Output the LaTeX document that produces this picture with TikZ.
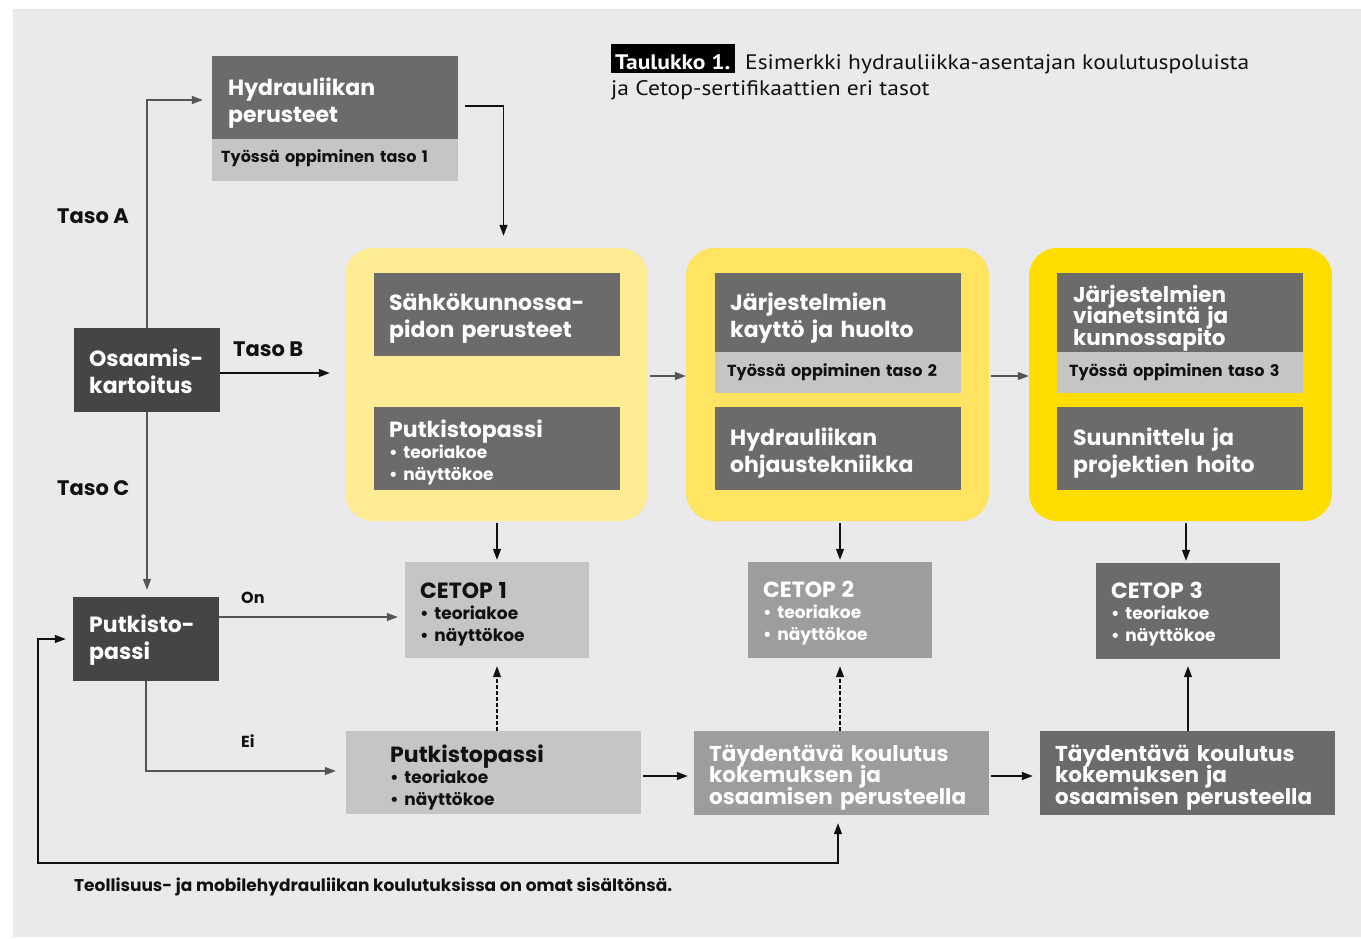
\documentclass[tikz,border=0pt]{standalone}
\usepackage{fontspec}
\setmainfont{Poppins}
\newfontfamily\ptsans{PT Sans}[FakeStretch=1.12]
\usetikzlibrary{arrows.meta,calc}
\definecolor{bg}{HTML}{EAEAEC}
\definecolor{dk}{HTML}{6B6B6A}
\definecolor{dkr}{HTML}{454545}
\definecolor{lt}{HTML}{C4C5C4}
\definecolor{md}{HTML}{9D9D9D}
\definecolor{yA}{HTML}{FDEC94}
\definecolor{yB}{HTML}{FEE460}
\definecolor{yC}{HTML}{FFDD00}
\definecolor{ink}{HTML}{111111}
\definecolor{ln}{HTML}{555555}
\setlength{\normallineskiplimit}{-30pt}
\setlength{\normallineskip}{0pt}
\setlength{\lineskiplimit}{-30pt}
\setlength{\lineskip}{0pt}
\tikzset{
  box/.style={rectangle, inner sep=0pt},
  cont/.style={rectangle, rounded corners=28pt, inner sep=0pt, minimum width=303pt, minimum height=273pt},
  txt/.style={anchor=base west, inner sep=0pt, text width=290pt, align=left, text=white,
    font=\bfseries\fontsize{22}{27}\selectfont},
  tight/.style={txt, font=\bfseries\fontsize{21.5}{21.5}\selectfont},
  striptxt/.style={txt, text=ink, font=\bfseries\fontsize{16}{20}\selectfont},
  bul/.style={txt, font=\bfseries\fontsize{17}{21.5}\selectfont},
  lbl/.style={anchor=base west, inner sep=0pt, text=ink, font=\bfseries\fontsize{21}{24}\selectfont},
  slbl/.style={anchor=base west, inner sep=0pt, text=ink, font=\bfseries\fontsize{16}{20}\selectfont},
  arr/.style={-{Triangle[length=11pt,width=8pt]}, line width=1.2pt, draw=ink},
  garr/.style={arr, draw=ln},
  darr/.style={arr, dashed, dash pattern=on 3.5pt off 2.5pt},
}
\newcommand{\bigt}[1]{{\fontsize{22}{22}\selectfont #1}}
\begin{document}
\begin{tikzpicture}[x=1pt,y=-1pt]
\useasboundingbox (0,0) rectangle (1361,938);
\fill[bg] (13,9) rectangle (1361,937);

% title
\node[anchor=base west, fill=black, text=white, font=\ptsans\bfseries\fontsize{21}{24}\selectfont,
  inner xsep=4pt, inner ysep=4pt, text height=21pt, text depth=0pt] (tk) at (611,69) {Taulukko 1.};
\node[anchor=base west, inner sep=0pt, text=ink, font=\ptsans\fontsize{21}{26}\selectfont] (tt1) at (745,69) {Esimerkki hydrauliikka-asentajan koulutuspoluista};
\node[anchor=base west, inner sep=0pt, text=ink, font=\ptsans\fontsize{21}{26}\selectfont] (tt2) at (611,95) {ja Cetop-sertifikaattien eri tasot};

% containers
\node[cont, fill=yA] (c1) at (496.5,384.5) {};
\node[cont, fill=yB] (c2) at (837.5,384.5) {};
\node[cont, fill=yC] (c3) at (1180.5,384.5) {};

% boxes
\node[box, fill=dk, minimum width=246pt, minimum height=83pt] (hp) at (335,97.5) {};
\node[box, fill=lt, minimum width=246pt, minimum height=42pt] (hps) at (335,160) {};
\node[box, fill=dkr, minimum width=146pt, minimum height=84pt] (os) at (147,370) {};
\node[box, fill=dkr, minimum width=146pt, minimum height=84pt] (pp) at (146,639) {};
\node[box, fill=dk, minimum width=246pt, minimum height=83pt] (s1) at (497,314.5) {};
\node[box, fill=dk, minimum width=246pt, minimum height=83pt] (p1) at (497,448.5) {};
\node[box, fill=dk, minimum width=246pt, minimum height=79pt] (j1) at (838,312.5) {};
\node[box, fill=lt, minimum width=246pt, minimum height=41pt] (j1s) at (838,372.5) {};
\node[box, fill=dk, minimum width=246pt, minimum height=83pt] (h2) at (838,448.5) {};
\node[box, fill=dk, minimum width=246pt, minimum height=79pt] (j3) at (1180,312.5) {};
\node[box, fill=lt, minimum width=246pt, minimum height=41pt] (j3s) at (1180,372.5) {};
\node[box, fill=dk, minimum width=246pt, minimum height=83pt] (su) at (1180,448.5) {};
\node[box, fill=lt, minimum width=184pt, minimum height=96pt] (ce1) at (497,610) {};
\node[box, fill=md, minimum width=184pt, minimum height=96pt] (ce2) at (840,610) {};
\node[box, fill=dk, minimum width=184pt, minimum height=96pt] (ce3) at (1188,611) {};
\node[box, fill=lt, minimum width=295pt, minimum height=83pt] (pb) at (493.5,772.5) {};
\node[box, fill=md, minimum width=295pt, minimum height=84pt] (t1) at (841.5,773) {};
\node[box, fill=dk, minimum width=295pt, minimum height=84pt] (t2) at (1187.5,773) {};

% box texts
\node[txt] (hpT) at (228,95) {Hydrauliikan\\perusteet};
\node[striptxt] (hpsT) at (221,162) {Työssä oppiminen taso 1};
\node[txt] (osT) at (89,366) {Osaamis-\\kartoitus};
\node[txt] (ppT) at (89,632) {Putkisto-\\passi};
\node[txt] (s1T) at (389,310) {Sähkökunnossa-\\pidon perusteet};
\node[bul] (p1T) at (389,437) {\bigt{Putkistopassi}\\• teoriakoe\\• näyttökoe};
\node[txt] (j1T) at (730,310) {Järjestelmien\\kayttö ja huolto};
\node[striptxt] (j1sT) at (727,376) {Työssä oppiminen taso 2};
\node[txt] (h2T) at (730,445) {Hydrauliikan\\ohjaustekniikka};
\node[tight] (j3T) at (1073,302) {Järjestelmien\\vianetsintä ja\\kunnossapito};
\node[striptxt] (j3sT) at (1069,376) {Työssä oppiminen taso 3};
\node[txt] (suT) at (1073,445) {Suunnittelu ja\\projektien hoito};
\node[bul, text=ink] (ce1T) at (420,598) {\bigt{CETOP 1}\\• teoriakoe\\• näyttökoe};
\node[bul] (ce2T) at (763,597) {\bigt{CETOP 2}\\• teoriakoe\\• näyttökoe};
\node[bul] (ce3T) at (1111,598) {\bigt{CETOP 3}\\• teoriakoe\\• näyttökoe};
\node[bul, text=ink] (pbT) at (390,762) {\bigt{Putkistopassi}\\• teoriakoe\\• näyttökoe};
\node[tight] (t1T) at (709,761) {Täydentävä koulutus\\kokemuksen ja\\osaamisen perusteella};
\node[tight] (t2T) at (1055,761) {Täydentävä koulutus\\kokemuksen ja\\osaamisen perusteella};

% labels
\node[lbl] (la) at (57,223) {Taso A};
\node[lbl] (lb) at (233,356) {Taso B};
\node[lbl] (lc) at (57,495) {Taso C};
\node[slbl] (lon) at (241,603) {On};
\node[slbl] (lei) at (241,747) {Ei};
\node[slbl, font=\bfseries\fontsize{17}{20}\selectfont] (foot) at (74,891) {Teollisuus- ja mobilehydrauliikan koulutuksissa on omat sisältönsä.};

% connectors
\draw[garr, shorten >=9pt] (os.north) |- ([yshift=-2.5pt]hp.west);
\draw[arr] ([shift={(7pt,-8.5pt)}]hp.east) -| ([xshift=7pt,yshift=12pt]c1.north);
\draw[arr, shorten >=15pt] ([yshift=-3pt]os.east) -- ([yshift=-3pt]os.east -| c1.west);
\draw[garr, shorten >=7pt] (os.south) -- (os.south |- pp.north);
\draw[garr, shorten <=2pt] ([yshift=8.5pt]c1.east) -- ([yshift=8.5pt]c2.west);
\draw[garr, shorten <=2pt] ([yshift=8.5pt]c2.east) -- ([yshift=8.5pt]c3.west);
\draw[arr, shorten <=2pt, shorten >=2pt] (c1.south -| ce1.north) -- (ce1.north);
\draw[arr, shorten <=2pt, shorten >=2pt] (c2.south -| ce2.north) -- (ce2.north);
\draw[arr, shorten <=2pt, shorten >=2pt] ([xshift=-2pt]c3.south -| ce3.north) -- ([xshift=-2pt]ce3.north);
\draw[garr, shorten >=7pt] ([yshift=22pt]pp.east) -- ([yshift=22pt]pp.east -| ce1.west);
\draw[garr, shorten >=10pt] (pp.south) |- ([yshift=1.5pt]pb.west);
\draw[darr, shorten >=8pt] (pb.north -| ce1.south) -- (ce1.south);
\draw[arr, shorten <=2pt, shorten >=6pt] ([yshift=-3.5pt]pb.east) -- ([yshift=-3.5pt]pb.east -| t1.west);
\draw[darr, shorten >=8pt] (t1.north -| ce2.south) -- (ce2.south);
\draw[arr, shorten <=2pt, shorten >=7pt] ([yshift=-3pt]t1.east) -- ([yshift=-3pt]t1.east -| t2.west);
\draw[arr, shorten >=7pt] (t2.north -| ce3.south) -- (ce3.south);
\coordinate (lp) at (38,863);
\draw[{Triangle[length=11pt,width=8pt]}-{Triangle[length=11pt,width=8pt]}, line width=1.2pt, draw=ink, shorten <=7pt, shorten >=8pt]
  (pp.west) -| (lp) -| ([xshift=-3.5pt]t1.south);
\end{tikzpicture}
\end{document}
